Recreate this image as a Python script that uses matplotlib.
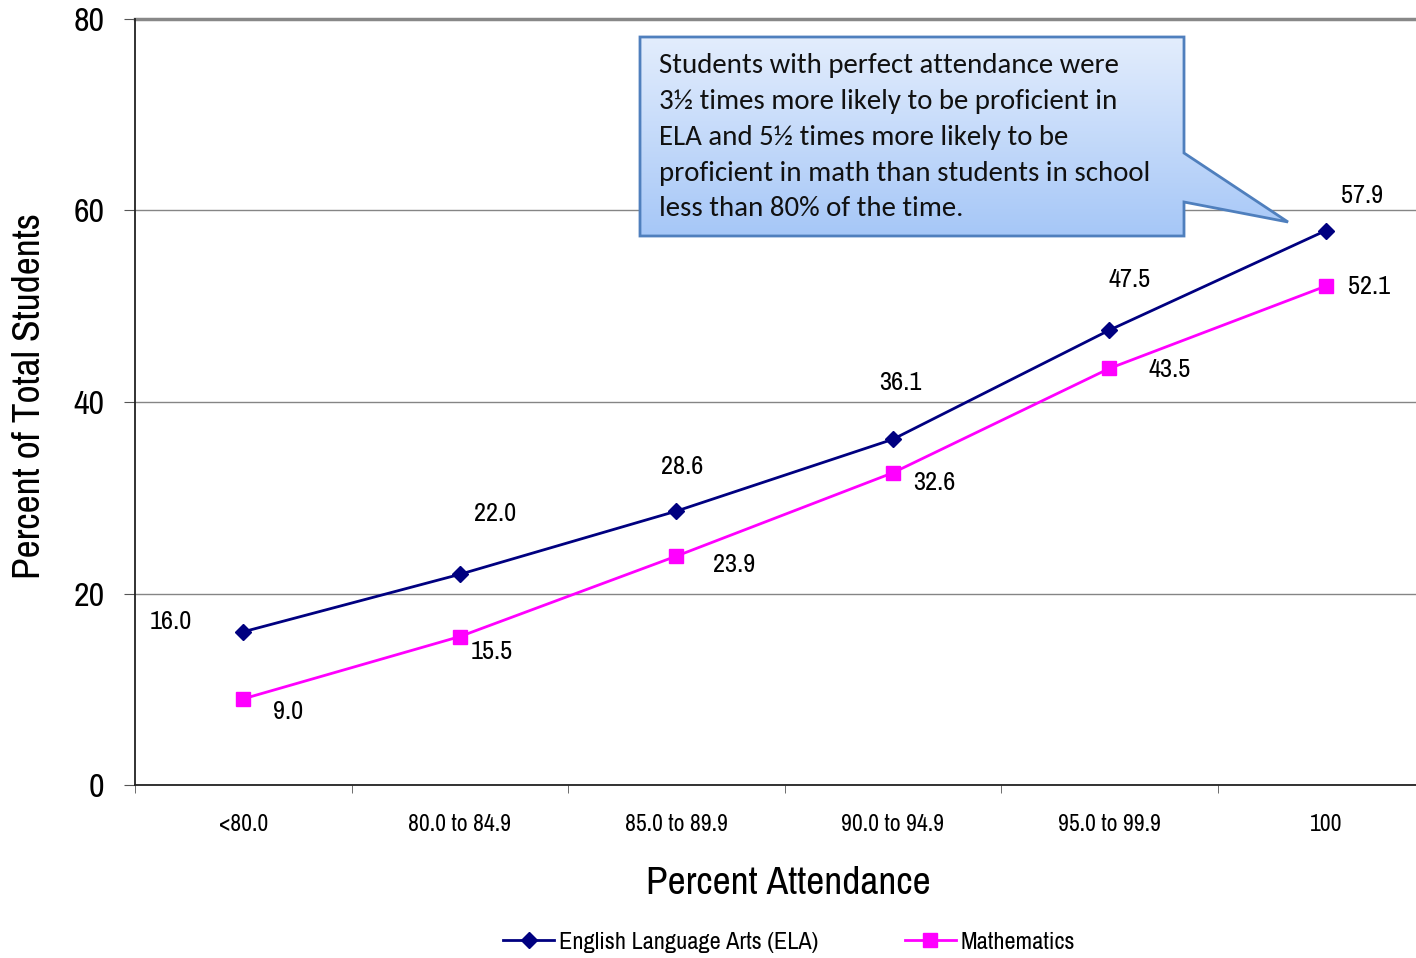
import matplotlib
matplotlib.use("Agg")
import matplotlib.pyplot as plt
import numpy as np
from matplotlib.patches import Polygon
from matplotlib import font_manager

categories = ["<80.0", "80.0 to 84.9", "85.0 to 89.9", "90.0 to 94.9", "95.0 to 99.9", "100"]
ela = [16.0, 22.0, 28.6, 36.1, 47.5, 57.9]
math_vals = [9.0, 15.5, 23.9, 32.6, 43.5, 52.1]
yticks = [0, 20, 40, 60, 80]

names = {f.name for f in font_manager.fontManager.ttflist}


def pick(prefs, default):
    for p in prefs:
        if p in names:
            return p
    return default


narrow = pick(["Arial Narrow", "Liberation Sans Narrow", "Archivo Narrow", "PT Sans Narrow",
               "Roboto Condensed", "Pragati Narrow", "Fira Sans Condensed",
               "IBM Plex Sans Condensed", "Encode Sans Condensed"], "Roboto")
callout_font = pick(["Calibri", "Carlito", "Lato"], "Lato")

W, H = 1416, 958
fig = plt.figure(figsize=(W / 100, H / 100), dpi=100)
ax = fig.add_axes([135 / W, 1 - 785 / H, (1434 - 135) / W, (785 - 19) / H])
x = np.arange(len(categories))
ax.set_xlim(-0.5, len(categories) - 0.5)
ax.set_ylim(0, 80)
ax.set_yticks(yticks)
ax.set_yticklabels([str(v) for v in yticks], fontsize=24.5, family=narrow)
ax.set_xticks(x)
ax.set_xticklabels(categories, fontsize=17, family=narrow)
ax.tick_params(axis="x", length=0, pad=21)
ax.set_xticks(np.arange(-0.5, len(categories) + 0.5, 1), minor=True)
ax.tick_params(axis="x", which="minor", length=6, direction="out", color="#555555")
ax.tick_params(axis="y", length=8, direction="out", pad=14, color="#555555")
ax.yaxis.grid(True, color="#858585", linewidth=1.0)
ax.set_axisbelow(True)
for s in ["top", "right"]:
    ax.spines[s].set_visible(False)
ax.spines["left"].set_color("#222222")
ax.spines["bottom"].set_color("#222222")
ax.spines["left"].set_linewidth(1.3)
ax.spines["bottom"].set_linewidth(1.3)
ax.axhline(80, color="#888888", linewidth=2.5, clip_on=False)

ax.plot(x, ela, color="#000080", linewidth=2, marker="D", markersize=8,
        label="English Language Arts (ELA)", zorder=4)
ax.plot(x, math_vals, color="#ff00ff", linewidth=2, marker="s", markersize=10,
        label="Mathematics", zorder=4)

ela_off = [(-72, 10), (35, 61), (6, 45), (8, 57), (20, 51), (36, 35)]
math_off = [(45, -13), (32, -15), (58, -8), (42, -10), (60, -1), (43, 0)]
for i in range(len(categories)):
    ax.annotate(f"{ela[i]:.1f}", (x[i], ela[i]), textcoords="offset pixels",
                xytext=ela_off[i], ha="center", va="center", fontsize=19, family=narrow)
    ax.annotate(f"{math_vals[i]:.1f}", (x[i], math_vals[i]), textcoords="offset pixels",
                xytext=math_off[i], ha="center", va="center", fontsize=19, family=narrow)

fig.text(30 / W, 1 - 396 / H, "Percent of Total Students", fontsize=28.5, family=narrow,
         rotation=90, ha="center", va="center")
fig.text(788 / W, 1 - 883 / H, "Percent Attendance", fontsize=28.5, family=narrow,
         ha="center", va="center")

# callout in figure pixel coordinates
pts = [(640, 37), (1184, 37), (1184, 153), (1288, 222), (1184, 202), (1184, 236), (640, 236)]
figpts = [(px / W, 1 - py / H) for px, py in pts]
grad = np.linspace(0, 1, 256).reshape(-1, 1)
c_top = np.array([0.89, 0.93, 0.99])
c_bot = np.array([0.65, 0.78, 0.97])
img = c_top + (c_bot - c_top) * grad[:, :, None]
img = np.repeat(img, 2, axis=1)
gax = fig.add_axes([0, 0, 1, 1], zorder=9)
gax.set_xlim(0, 1); gax.set_ylim(0, 1); gax.axis("off")
im = gax.imshow(img, extent=[640 / W, 1288 / W, 1 - 236 / H, 1 - 37 / H], aspect="auto",
                origin="upper")
clip = Polygon(figpts, closed=True, transform=gax.transData, facecolor="none")
gax.add_patch(clip)
clip.set_visible(False)
im.set_clip_path(clip)
gax.add_patch(Polygon(figpts, closed=True, facecolor="none", edgecolor="#4f7fbd", linewidth=2))
lines = ["Students with perfect attendance were",
         "3½ times more likely to be proficient in",
         "ELA and 5½ times more likely to be",
         "proficient in math than students in school",
         "less than 80% of the time."]
csize = 20.8
for k, ln in enumerate(lines):
    gax.text(659 / W, 1 - (65 + 36 * k) / H, ln, fontsize=csize, family=callout_font,
             ha="left", va="center", color="#111111")

leg = fig.legend(loc="center", bbox_to_anchor=(789 / W, 1 - 942 / H), ncol=2, frameon=False,
                 prop={"family": narrow, "size": 17.5}, columnspacing=3.55, handlelength=2.1,
                 handletextpad=0.2)

fig.savefig("out.png", dpi=100)
